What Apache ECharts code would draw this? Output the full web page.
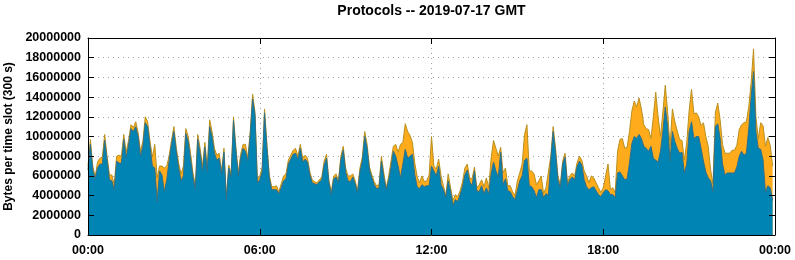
<!DOCTYPE html>
<html>
<head>
<meta charset="utf-8">
<script src="https://cdn.jsdelivr.net/npm/echarts@6/dist/echarts.min.js"></script>
<style>
html,body{margin:0;padding:0;background:#fff;}
#chart{width:795px;height:260px;}
</style>
</head>
<body>
<div id="chart"></div>
<script>
// Chart title and axis texts
const titleText = 'Protocols -- 2019-07-17 GMT';
const yAxisName = 'Bytes per time slot (300 s)';
// x ticks every 6 hours (minutes of the day)
const xTickMinutes = [0, 360, 720, 1080, 1440];
const slotMinutes = 5; // 300 s time slots, 288 per day

// Total bytes per slot (top of orange area), in millions
const totalM = [
7.0,9.7,7.0,5.9,7.4,7.8,7.9,10.2,8.0,6.1,6.1,5.1,8.0,8.1,8.0,10.2,8.4,9.6,11.2,10.9,
11.5,10.4,8.5,9.5,12.0,11.5,9.5,7.9,9.2,5.8,7.0,7.0,6.8,7.0,8.0,9.6,11.0,8.9,7.3,6.2,
7.0,10.8,10.0,8.3,6.3,5.0,10.2,8.8,7.0,9.4,6.8,11.7,10.5,8.8,8.1,8.3,6.5,8.8,3.8,7.1,
6.2,12.0,8.9,6.3,8.2,9.2,9.2,7.8,10.5,14.3,12.5,5.6,6.0,6.8,12.8,9.2,6.1,4.9,4.9,5.0,
4.4,5.2,6.0,6.2,7.6,8.1,8.6,8.8,8.0,9.2,7.8,8.1,7.8,6.4,5.6,5.4,5.3,5.6,5.9,7.5,
8.2,5.5,4.4,6.0,6.2,5.5,8.0,9.0,6.8,6.0,6.0,6.2,5.5,4.5,6.8,7.9,10.5,9.2,6.9,6.1,
5.4,5.0,5.1,8.0,6.3,4.8,5.9,7.5,9.0,9.2,8.4,9.2,9.4,11.3,10.5,10.1,9.4,7.3,5.9,5.3,
6.0,5.4,5.5,6.1,10.0,7.0,6.7,7.7,6.0,5.0,4.0,6.2,4.8,3.5,4.1,3.9,4.5,5.4,6.8,7.2,
5.8,5.7,6.9,4.8,5.1,5.6,4.9,5.8,4.8,7.8,9.6,8.8,8.0,8.9,6.3,6.8,5.0,5.0,4.4,4.0,
5.5,6.3,7.2,10.2,11.2,6.5,6.5,6.2,5.1,5.5,6.0,4.2,4.8,6.4,8.0,11.0,8.8,6.0,5.1,7.5,
8.3,5.3,6.0,6.3,6.0,7.3,8.0,7.6,6.5,6.0,5.3,6.0,5.8,5.3,4.8,4.3,4.8,6.0,7.2,4.6,
4.8,4.3,8.5,9.7,9.8,8.8,8.9,10.5,12.6,13.6,13.0,13.9,12.8,11.2,10.8,10.7,9.8,12.0,14.5,12.0,
10.0,12.5,15.2,12.5,9.0,12.8,11.5,10.6,9.7,9.6,7.6,9.4,12.6,14.8,12.3,12.4,12.0,11.1,11.4,10.0,
9.0,6.6,5.2,12.4,13.4,11.7,9.2,8.3,8.3,8.3,8.6,8.6,9.1,10.7,11.2,11.4,11.5,13.0,15.5,18.9,
12.0,9.8,11.4,11.1,9.0,9.9,9.1,7.0
];
// Blue protocol bytes per slot (top of blue area), in millions
const blueM = [
6.6,9.2,6.6,5.7,6.8,7.2,7.2,9.6,7.6,5.6,5.5,4.6,7.5,7.3,7.3,9.7,7.9,9.1,10.8,10.5,
11.0,10.0,8.0,9.0,11.4,11.0,9.0,7.0,6.8,3.4,6.5,6.1,4.4,5.6,7.5,9.2,10.5,8.5,6.8,5.5,
6.0,10.3,9.5,7.7,5.9,4.7,9.7,8.3,6.5,8.9,6.4,11.0,10.0,8.3,7.6,7.8,6.2,8.4,3.6,6.8,
5.9,11.6,8.6,6.0,7.8,8.8,8.5,7.5,10.1,13.8,12.2,5.3,5.6,6.4,12.4,8.9,5.8,4.6,4.6,4.6,
4.2,4.8,5.5,5.7,7.2,7.7,8.2,8.3,7.7,8.8,7.4,7.7,7.4,6.1,5.3,5.2,5.1,5.4,5.6,7.1,
7.8,5.3,4.1,5.7,5.9,5.3,7.6,8.6,6.4,5.5,5.4,5.9,5.2,4.3,6.4,7.5,10.0,8.8,6.6,5.8,
5.1,4.7,4.8,7.5,5.9,4.6,5.5,6.8,8.5,8.0,7.0,5.8,7.2,8.7,7.8,8.0,8.2,6.1,4.9,4.7,
5.1,4.9,5.0,5.0,7.0,6.5,6.0,7.0,5.1,4.6,3.8,5.5,4.4,3.0,3.6,3.4,4.1,4.9,6.1,6.6,
5.4,5.0,6.5,4.5,4.4,5.0,4.2,4.8,4.2,6.2,7.4,6.5,5.9,8.4,5.1,5.7,4.5,4.4,3.9,3.6,
4.5,5.5,6.0,7.6,7.8,5.0,4.9,4.5,3.8,4.6,4.6,3.8,4.2,4.0,7.6,10.5,8.4,5.6,4.8,7.2,
7.9,5.0,5.6,5.9,5.6,6.9,7.5,7.1,5.6,4.9,4.6,4.8,4.9,4.5,4.1,3.9,4.3,4.6,4.5,4.1,
4.1,3.8,6.3,6.4,6.0,5.6,5.7,7.3,9.3,10.0,9.8,10.2,9.8,9.0,8.8,8.5,9.0,7.8,7.6,7.4,
8.5,10.5,13.0,11.0,7.5,10.5,9.5,8.8,8.3,8.4,6.3,7.2,10.5,11.5,9.8,10.0,10.0,8.8,7.5,6.4,
5.8,5.5,4.4,11.0,11.3,9.8,7.2,6.1,6.3,6.3,6.3,6.3,6.9,8.0,8.5,8.1,8.3,10.8,14.0,16.6,
10.5,8.8,8.7,7.6,4.3,5.0,4.8,3.5
];

const FONT = '"Liberation Sans", Arial, Helvetica, sans-serif';
function hhmm(v) {
  const m = Math.round(v) % 1440;
  const h = Math.floor(m / 60), mm = m % 60;
  return (h < 10 ? '0' : '') + h + ':' + (mm < 10 ? '0' : '') + mm;
}
const toPairs = arr => arr.map((v, i) => [i * slotMinutes, Math.round(v * 1e6)]);

const chart = echarts.init(document.getElementById('chart'), null, {renderer: 'canvas'});
const xBase = {type: 'value', min: xTickMinutes[0], max: xTickMinutes[xTickMinutes.length - 1], interval: 360};
const yBase = {type: 'value', min: 0, max: 20000000, interval: 2000000};
const tickStyle = {show: true, inside: true, length: 6, lineStyle: {color: '#000', width: 1}};
const lineStyleBlack = {show: true, onZero: false, lineStyle: {color: '#000', width: 1}};
const gridLine = {show: true, lineStyle: {color: '#a0a0a0', type: [1, 4], width: 1}};

chart.setOption({
  animation: false,
  backgroundColor: '#fff',
  grid: {left: 88, right: 20, top: 38, bottom: 25, containLabel: false, outerBoundsMode: 'none'},
  graphic: [{
    type: 'text', x: 431.5, y: 11, z: 100,
    style: {text: titleText, font: 'bold 14px ' + FONT, fill: '#000', textAlign: 'center', textVerticalAlign: 'middle'}
  }],
  xAxis: [
    Object.assign({}, xBase, {position: 'bottom', z: 10,
      axisLine: lineStyleBlack, axisTick: tickStyle, splitLine: {show: false},
      axisLabel: {show: true, margin: 9, color: '#000', fontFamily: FONT, fontWeight: 'bold', fontSize: 12.5,
        formatter: v => hhmm(v), showMinLabel: true, showMaxLabel: true}}),
    Object.assign({}, xBase, {position: 'top', z: 10,
      axisLine: lineStyleBlack, axisTick: tickStyle, splitLine: {show: false}, axisLabel: {show: false}}),
    Object.assign({}, xBase, {position: 'bottom', z: 0,
      axisLine: {show: false}, axisTick: {show: false}, axisLabel: {show: false}, splitLine: gridLine})
  ],
  yAxis: [
    Object.assign({}, yBase, {position: 'left', z: 10,
      axisLine: lineStyleBlack, axisTick: tickStyle, splitLine: {show: false},
      name: yAxisName, nameLocation: 'middle', nameGap: 70, nameRotate: 90,
      nameTextStyle: {color: '#000', fontFamily: FONT, fontWeight: 'bold', fontSize: 12},
      axisLabel: {show: true, margin: 7, color: '#000', fontFamily: FONT, fontWeight: 'bold', fontSize: 12.5,
        formatter: v => String(v)}}),
    Object.assign({}, yBase, {position: 'right', z: 10,
      axisLine: lineStyleBlack, axisTick: tickStyle, splitLine: {show: false}, axisLabel: {show: false}}),
    Object.assign({}, yBase, {position: 'left', z: 0,
      axisLine: {show: false}, axisTick: {show: false}, axisLabel: {show: false}, splitLine: gridLine})
  ],
  series: [
    {type: 'line', name: 'total', xAxisIndex: 0, yAxisIndex: 0, data: toPairs(totalM),
      symbol: 'none', showSymbol: false, smooth: false, z: 2, silent: true,
      lineStyle: {color: '#b8901e', width: 1}, areaStyle: {color: '#ffab1c', opacity: 1}},
    {type: 'line', name: 'blue', xAxisIndex: 0, yAxisIndex: 0, data: toPairs(blueM),
      symbol: 'none', showSymbol: false, smooth: false, z: 3, silent: true,
      lineStyle: {color: '#2f6f8a', width: 1}, areaStyle: {color: '#0084b4', opacity: 1}}
  ]
});
</script>
</body>
</html>
